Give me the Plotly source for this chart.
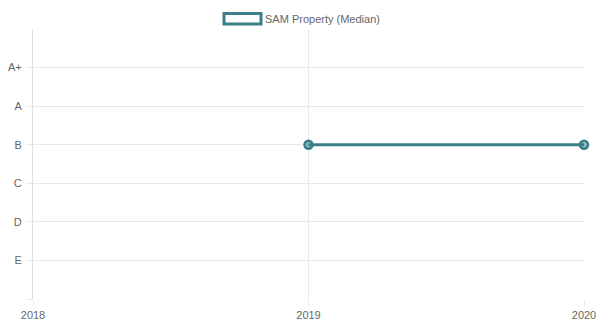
import plotly.graph_objects as go

# Grade scale (bottom to top) and the median grade per year
grade_labels = ["E", "D", "C", "B", "A", "A+"]
x_ticks = [2018, 2019, 2020]
years = [2019, 2020]
median_grades = ["B", "B"]
series_name = "SAM Property (Median)"

line_color = "#3a7f85"
grid_color = "#e9e9e9"
font_color = "#666666"
font_family = "Arial"

grade_pos = {g: i + 1 for i, g in enumerate(grade_labels)}
y_vals = [grade_pos[g] for g in median_grades]

fig = go.Figure()
fig.add_trace(go.Scatter(
    x=years, y=y_vals, mode="lines+markers", name=series_name,
    line=dict(color=line_color, width=3),
    marker=dict(size=8, color="rgba(58,127,133,0.55)",
                line=dict(color=line_color, width=2.5)),
    showlegend=False, cliponaxis=False,
))

fig.update_layout(
    width=606, height=324,
    margin=dict(l=33, r=22, t=29, b=25, autoexpand=False),
    paper_bgcolor="white", plot_bgcolor="white",
    font=dict(family=font_family, size=11, color=font_color),
    xaxis=dict(
        range=[2018, 2020], tickvals=x_ticks, ticktext=[str(v) for v in x_ticks],
        showgrid=True, gridcolor=grid_color, gridwidth=1,
        zeroline=False, showline=False, automargin=False,
        ticks="outside", ticklen=6, tickcolor=grid_color,
        tickfont=dict(family=font_family, size=11, color=font_color),
    ),
    yaxis=dict(
        range=[0, 7], tickvals=list(range(0, len(grade_labels) + 1)),
        ticktext=[""] + grade_labels,
        showgrid=True, gridcolor=grid_color, gridwidth=1,
        zeroline=False, showline=True, linecolor="#dedede", linewidth=1,
        automargin=False, ticklabelstandoff=2,
        ticks="outside", ticklen=6, tickcolor=grid_color,
        tickfont=dict(family=font_family, size=11, color=font_color),
    ),
)

# Legend: outlined box swatch plus label, centred above the plot
fig.add_shape(type="rect", xref="paper", yref="paper",
              x0=(224 - 33) / 551, x1=(261 - 33) / 551,
              y0=(295 - 20) / 270, y1=(295 - 9.5) / 270,
              line=dict(color=line_color, width=3), fillcolor="white")
fig.add_annotation(xref="paper", yref="paper",
                   x=(263 - 33) / 551, y=(295 - 15) / 270,
                   xanchor="left", yanchor="middle", showarrow=False,
                   text=series_name, font=dict(family=font_family, size=11, color=font_color))

fig.write_html("out.html")
